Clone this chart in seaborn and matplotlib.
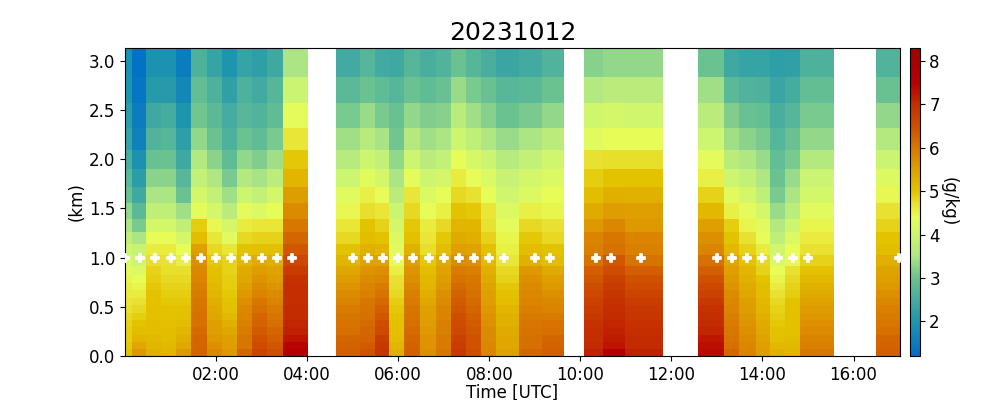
import numpy as np
import pandas as pd
import matplotlib
matplotlib.use("Agg")
import matplotlib.pyplot as plt
from matplotlib.colors import LinearSegmentedColormap, Normalize
import seaborn as sns

title = "20231012"
height_edges_km = [0, .07, .14, .21, .29, .366, .44, .52, .59, .668, .745, .824, .915, 1.03, 1.139,
                   1.26, 1.393, 1.55, 1.72, 1.90, 2.095, 2.32, 2.566, 2.83, 3.128]
col_start_h = [0.0, .145, .468, .798, 1.127, 1.457, 1.809, 2.138, 2.468, 2.798, 3.127, 3.479,
               4.644, 5.15, 5.49, 5.80, 6.138, 6.468, 6.82, 7.149, 7.479, 7.809, 8.138, 8.644, 9.149,
               10.07, 10.49, 10.97, 12.58, 13.15, 13.48, 13.85, 14.16, 14.49, 14.82, 16.49]
col_end_h = [.145, .468, .798, 1.127, 1.457, 1.809, 2.138, 2.468, 2.798, 3.127, 3.479, 4.028,
             5.15, 5.49, 5.80, 6.138, 6.468, 6.82, 7.149, 7.479, 7.809, 8.138, 8.644, 9.149, 9.633,
             10.49, 10.97, 11.81, 13.15, 13.48, 13.85, 14.16, 14.49, 14.82, 15.56, 17.02]
# humidity (g/kg) per column, listed from the top level down
q_columns = [
 [1.9,2.0,2.15,2.3,2.55,2.8,3.0,3.3,3.5,3.8,4.0,4.2,4.3,4.5,4.55,4.6,4.65,4.7,4.8,4.85,4.9,4.9,4.95,5.0],
 [1.3,1.35,1.5,1.6,1.9,2.15,2.4,2.8,3.1,3.5,3.9,4.0,4.2,4.4,4.5,4.6,4.7,4.8,4.9,5.0,5.1,5.2,5.4,5.6],
 [1.9,2.1,2.4,2.65,2.95,3.25,3.5,3.8,4.1,4.4,4.6,4.75,4.85,4.9,4.95,5.0,5.0,5.05,5.05,5.1,5.1,5.15,5.2,5.3],
 [1.9,2.1,2.5,2.7,3.0,3.25,3.5,3.8,4.1,4.4,4.6,4.7,4.75,4.8,4.85,4.9,4.95,5.0,5.0,5.05,5.1,5.1,5.15,5.2],
 [1.5,1.7,2.0,2.2,2.4,2.75,3.0,3.4,3.8,4.1,4.4,4.55,4.75,4.8,4.85,4.9,4.95,5.0,5.05,5.1,5.2,5.3,5.4,5.6],
 [2.6,2.9,3.05,3.3,3.6,3.85,4.1,4.35,4.9,5.1,5.5,5.7,5.8,5.85,5.9,5.95,6.0,6.05,6.1,6.1,6.15,6.2,6.2,6.25],
 [2.3,2.6,2.8,3.0,3.25,3.55,3.85,4.1,4.45,4.65,4.8,4.95,5.05,5.1,5.15,5.2,5.3,5.35,5.4,5.5,5.55,5.6,5.7,5.8],
 [2.0,2.25,2.5,2.6,2.85,3.1,3.4,3.7,4.1,4.3,4.65,4.85,4.85,4.9,4.9,4.95,5.0,5.05,5.15,5.3,5.4,5.5,5.55,5.6],
 [2.3,2.6,2.75,3.0,3.3,3.6,4.0,4.35,4.6,4.8,5.0,5.15,5.35,5.4,5.5,5.6,5.7,5.8,5.85,5.9,5.95,6.0,6.0,6.2],
 [2.2,2.45,2.65,2.85,3.15,3.45,3.85,4.25,4.65,4.85,5.05,5.35,5.55,5.65,5.75,5.85,6.0,6.1,6.2,6.25,6.35,6.45,6.55,6.65],
 [2.4,2.7,2.85,3.1,3.4,3.75,4.1,4.4,4.65,4.85,5.05,5.3,5.45,5.55,5.65,5.75,5.85,5.95,6.0,6.1,6.2,6.3,6.4,6.5],
 [3.5,3.95,4.35,4.65,4.95,5.2,5.55,5.75,6.0,6.2,6.4,6.6,6.8,6.95,7.0,7.0,7.0,7.05,7.05,7.1,7.15,7.3,7.45,7.6],
 [2.45,2.8,3.1,3.4,3.65,4.0,4.3,4.45,4.65,4.8,5.0,5.2,5.4,5.55,5.65,5.75,5.85,5.95,6.0,6.05,6.1,6.2,6.25,6.3],
 [2.7,3.0,3.35,3.65,4.0,4.3,4.55,4.75,5.0,5.1,5.25,5.45,5.65,5.75,5.85,5.9,6.0,6.05,6.1,6.15,6.2,6.25,6.35,6.45],
 [2.45,2.85,3.1,3.45,3.85,4.1,4.4,4.65,4.85,5.0,5.2,5.45,5.7,5.8,5.95,6.05,6.15,6.3,6.4,6.5,6.6,6.75,6.85,6.9],
 [2.4,2.7,2.95,3.05,3.3,3.5,3.7,3.95,4.1,4.25,4.3,4.4,4.55,4.7,4.75,4.8,4.9,4.95,5.0,5.05,5.05,5.1,5.2,5.3],
 [2.7,3.0,3.3,3.6,4.0,4.35,4.65,4.8,4.95,5.05,5.25,5.5,5.65,5.7,5.8,5.9,5.95,6.0,6.05,6.1,6.15,6.2,6.25,6.3],
 [2.55,2.85,3.15,3.4,3.7,4.0,4.2,4.4,4.6,4.65,4.75,4.95,5.1,5.15,5.2,5.3,5.4,5.45,5.5,5.55,5.6,5.65,5.65,5.7],
 [2.65,2.95,3.2,3.5,3.85,4.1,4.4,4.55,4.8,4.95,5.1,5.35,5.45,5.55,5.6,5.7,5.75,5.85,5.85,5.9,5.9,5.95,5.95,6.0],
 [3.0,3.35,3.7,4.0,4.4,4.6,4.8,5.0,5.2,5.35,5.5,5.75,5.95,6.05,6.15,6.25,6.35,6.4,6.5,6.55,6.6,6.7,6.75,6.85],
 [2.7,3.1,3.4,3.8,4.15,4.4,4.7,4.95,5.2,5.3,5.45,5.7,5.9,6.0,6.05,6.1,6.15,6.2,6.3,6.35,6.4,6.45,6.45,6.5],
 [2.55,2.95,3.2,3.55,3.95,4.2,4.4,4.65,4.7,4.85,5.05,5.15,5.3,5.35,5.45,5.5,5.55,5.6,5.65,5.7,5.75,5.75,5.8,5.85],
 [2.35,2.75,3.0,3.35,3.65,3.9,4.05,4.25,4.35,4.5,4.55,4.65,4.8,4.85,4.95,5.05,5.1,5.2,5.25,5.3,5.35,5.4,5.4,5.45],
 [2.45,2.8,3.1,3.5,3.85,4.1,4.25,4.55,4.8,4.95,5.1,5.25,5.6,5.7,5.75,5.8,5.85,5.9,5.95,6.0,6.05,6.1,6.1,6.2],
 [2.65,3.0,3.3,3.7,4.05,4.2,4.4,4.5,4.7,4.8,5.0,5.1,5.35,5.5,5.6,5.7,5.8,5.85,5.95,6.05,6.1,6.2,6.25,6.3],
 [3.2,3.6,4.05,4.3,4.7,4.9,5.1,5.35,5.6,5.85,5.9,6.05,6.3,6.4,6.5,6.6,6.7,6.75,6.85,6.95,7.0,7.0,7.05,7.15],
 [3.3,3.7,4.1,4.4,4.75,5.0,5.3,5.55,5.8,6.0,6.1,6.4,6.55,6.7,6.8,6.9,6.95,7.0,7.05,7.1,7.15,7.2,7.3,7.6],
 [3.3,3.7,4.05,4.4,4.75,5.0,5.25,5.5,5.6,5.85,5.9,6.05,6.3,6.45,6.55,6.65,6.75,6.85,6.9,6.95,7.0,7.05,7.05,7.15],
 [3.0,3.4,3.7,4.0,4.35,4.55,4.85,5.15,5.5,5.7,5.85,6.1,6.3,6.45,6.6,6.7,6.85,6.95,7.0,7.05,7.1,7.25,7.35,7.4],
 [2.4,2.8,3.15,3.4,3.7,4.0,4.3,4.55,4.9,5.0,5.15,5.4,5.5,5.6,5.65,5.75,5.8,5.85,5.9,5.95,6.0,6.05,6.1,6.2],
 [2.3,2.65,2.95,3.25,3.55,3.85,4.1,4.35,4.5,4.7,4.85,5.05,5.2,5.25,5.35,5.4,5.5,5.55,5.6,5.65,5.7,5.75,5.8,5.85],
 [2.3,2.6,2.9,3.1,3.35,3.55,3.8,4.1,4.3,4.4,4.6,4.8,4.85,5.0,5.1,5.1,5.15,5.2,5.25,5.35,5.4,5.45,5.5,5.55],
 [2.2,2.35,2.55,2.7,2.9,3.0,3.1,3.35,3.6,3.8,4.05,4.2,4.4,4.5,4.6,4.7,4.8,4.85,4.9,4.95,5.0,5.05,5.15,5.25],
 [2.25,2.5,2.7,2.95,3.1,3.35,3.5,3.75,4.0,4.2,4.4,4.45,4.7,4.8,4.85,4.9,5.0,5.0,5.05,5.05,5.05,5.1,5.15,5.2],
 [2.6,2.9,3.1,3.3,3.6,3.95,4.1,4.3,4.5,4.6,4.7,4.85,5.0,5.15,5.25,5.35,5.45,5.55,5.6,5.7,5.75,5.85,5.9,6.0],
 [2.65,2.95,3.3,3.6,3.95,4.25,4.45,4.7,4.85,5.0,5.1,5.3,5.45,5.5,5.6,5.7,5.8,5.9,5.95,6.0,6.1,6.2,6.25,6.3],
]
cloud_base_h = [0, 1/3, 2/3, 1, 4/3, 5/3, 2, 7/3, 8/3, 3, 10/3, 11/3,
                5, 16/3, 17/3, 6, 19/3, 20/3, 7, 22/3, 23/3, 8, 25/3, 9, 28/3,
                31/3, 32/3, 34/3, 13, 40/3, 41/3, 14, 43/3, 44/3, 15, 17]
cloud_base_km = [1.0] * len(cloud_base_h)
xtick_hours = [2, 4, 6, 8, 10, 12, 14, 16]
xtick_labels = ["02:00", "04:00", "06:00", "08:00", "10:00", "12:00", "14:00", "16:00"]
ytick_km = [0, .5, 1, 1.5, 2, 2.5, 3]
cbar_ticks = [2, 3, 4, 5, 6, 7, 8]
cmap_values = [1.2, 2.0, 3.0, 3.5, 4.0, 4.4, 4.7, 5.0, 5.5, 6.0, 6.5, 7.0, 7.5, 8.3]
cmap_colors = ["#006ec8", "#2096ac", "#6cc391", "#aee684", "#cdf56f", "#e8fc58", "#e9e232",
               "#e3c400", "#dfa000", "#d87800", "#cf4e00", "#c43000", "#b80000", "#a00000"]

sns.set_style("ticks")
plt.rcParams.update({"font.family": "DejaVu Sans", "text.color": "black", "axes.labelcolor": "black",
                     "xtick.color": "black", "ytick.color": "black", "axes.edgecolor": "black",
                     "axes.linewidth": 0.8, "xtick.direction": "out", "ytick.direction": "out",
                     "xtick.major.size": 3.5, "ytick.major.size": 3.5,
                     "xtick.major.width": 0.8, "ytick.major.width": 0.8,
                     "xtick.major.pad": 3.5, "ytick.major.pad": 3.5,
                     "axes.titlepad": 6.0})

vmin, vmax = cmap_values[0], cmap_values[-1]
cmap = LinearSegmentedColormap.from_list(
    "q", [((v - vmin) / (vmax - vmin), c) for v, c in zip(cmap_values, cmap_colors)], N=256)
norm = Normalize(vmin, vmax)

fig = plt.figure(figsize=(10, 4), dpi=100)
ax = fig.add_axes([0.125, 0.11, 0.775, 0.77])
for s, e, col in zip(col_start_h, col_end_h, q_columns):
    vals = np.array(col, dtype=float)[::-1].reshape(-1, 1)
    mesh = ax.pcolormesh([s, e], height_edges_km, vals, cmap=cmap, norm=norm, shading="flat")

dots = pd.DataFrame({"t": cloud_base_h, "h": cloud_base_km})
sns.scatterplot(data=dots, x="t", y="h", ax=ax, color="white", marker="P", s=26, linewidth=1.3,
                edgecolor="white", clip_on=True, zorder=5, legend=False)

ax.set_xlim(0, 17.02)
ax.set_ylim(0, height_edges_km[-1])
ax.set_xticks(xtick_hours, xtick_labels, fontsize=12)
ax.set_yticks(ytick_km, [f"{v:.1f}" for v in ytick_km], fontsize=12)
ax.set_xlabel("Time [UTC]", fontsize=12, labelpad=0)
ax.set_ylabel("(km)", fontsize=12, labelpad=2.5)
ax.set_title(title, fontsize=18)

cax = fig.add_axes([0.91, 0.11, 0.0095, 0.77])
cb = fig.colorbar(mesh, cax=cax)
cb.set_ticks(cbar_ticks)
cb.ax.tick_params(labelsize=12)
cb.set_label("(g/kg)", rotation=270, fontsize=12, labelpad=13)
fig.savefig("out.png", dpi=100)
